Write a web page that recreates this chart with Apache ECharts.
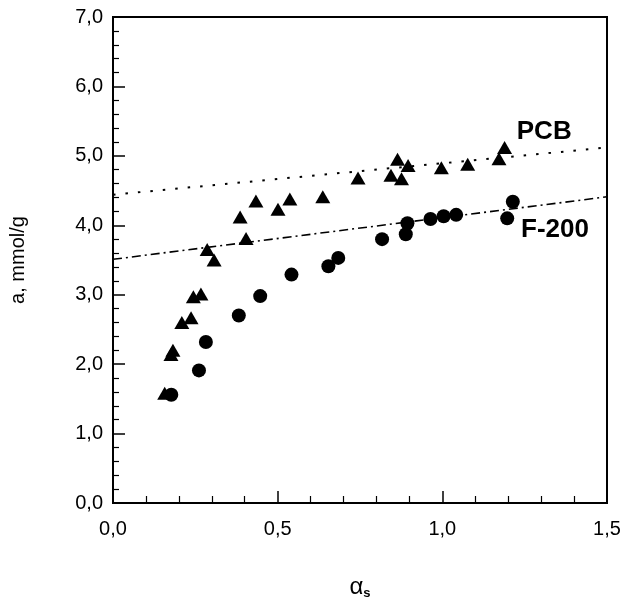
<!DOCTYPE html>
<html>
<head>
<meta charset="utf-8">
<script src="https://cdn.jsdelivr.net/npm/echarts@6/dist/echarts.min.js"></script>
<style>html,body{margin:0;padding:0;background:#fff}#c{width:627px;height:605px}</style>
</head>
<body>
<div id="c"></div>
<script>
// PCB (triangles)
const pcbX = [0.157,0.176,0.182,0.209,0.237,0.244,0.267,0.286,0.307,0.386,0.404,0.434,0.501,0.537,0.637,0.744,0.844,0.864,0.876,0.896,0.997,1.077,1.172,1.189];
const pcbY = [1.58,2.14,2.20,2.60,2.67,2.97,3.01,3.65,3.50,4.12,3.81,4.35,4.23,4.38,4.41,4.68,4.72,4.95,4.67,4.86,4.83,4.88,4.96,5.12];
// F-200 (circles)
const f200X = [0.177,0.261,0.282,0.382,0.447,0.542,0.654,0.684,0.817,0.889,0.894,0.964,1.004,1.042,1.197,1.214];
const f200Y = [1.56,1.91,2.32,2.70,2.98,3.29,3.41,3.53,3.80,3.87,4.03,4.09,4.13,4.15,4.10,4.34];
// fitted lines (endpoints)
const pcbLineX = [0, 1.5];
const pcbLineY = [4.44, 5.12];
const f200LineX = [0, 1.5];
const f200LineY = [3.51, 4.41];
// labels
const seriesNames = ['PCB', 'F-200'];
const labelPosX = [1.226, 1.239];
const labelPosY = [5.35, 3.94];

const zip = (a, b) => a.map((v, i) => [v, b[i]]);
const fmt = v => v.toFixed(1).replace('.', ',');
const FONT = 'Liberation Sans, Arial, sans-serif';

const chart = echarts.init(document.getElementById('c'));
chart.setOption({
  animation: false,
  backgroundColor: '#fff',
  grid: { left: 107, right: 20, top: 17, bottom: 90, show: true, borderColor: '#000', borderWidth: 2 },
  xAxis: {
    type: 'value', min: 0, max: 1.5, interval: 0.5,
    name: '{a|α}{s|s}', nameLocation: 'middle', nameGap: 72,
    nameTextStyle: { rich: { a: { fontSize: 24, fontFamily: FONT, color: '#000' }, s: { fontSize: 13, fontWeight: 'bold', fontFamily: FONT, color: '#000', padding: [12, 0, 0, 0] } } },
    axisLine: { lineStyle: { color: '#000', width: 2 } },
    axisTick: { inside: true, length: 12, lineStyle: { color: '#000', width: 1.5 } },
    minorTick: { show: true, splitNumber: 5, length: 7, lineStyle: { color: '#000', width: 1.2 } },
    splitLine: { show: false },
    axisLabel: { formatter: fmt, fontSize: 20, fontFamily: FONT, color: '#000', margin: 16 }
  },
  yAxis: {
    type: 'value', min: 0, max: 7, interval: 1,
    name: 'a, mmol/g', nameLocation: 'middle', nameGap: 85,
    nameTextStyle: { fontSize: 20, fontFamily: FONT, color: '#000' },
    axisLine: { lineStyle: { color: '#000', width: 2 } },
    axisTick: { inside: true, length: 12, lineStyle: { color: '#000', width: 1.5 } },
    minorTick: { show: true, splitNumber: 5, length: 6, lineStyle: { color: '#000', width: 1.2 } },
    splitLine: { show: false },
    axisLabel: { formatter: fmt, fontSize: 20, fontFamily: FONT, color: '#000', margin: 10 }
  },
  series: [
    { name: 'PCB fit', type: 'line', data: zip(pcbLineX, pcbLineY), symbol: 'none', z: 1,
      lineStyle: { color: '#000', width: 2, type: [2.5, 10] } },
    { name: 'F-200 fit', type: 'line', data: zip(f200LineX, f200LineY), symbol: 'none', z: 1,
      lineStyle: { color: '#000', width: 1.6, type: [9, 4, 2, 4] } },
    { name: 'PCB', type: 'scatter', data: zip(pcbX, pcbY), symbol: 'triangle', symbolSize: [15, 13],
      itemStyle: { color: '#000', opacity: 1 }, z: 3 },
    { name: 'F-200', type: 'scatter', data: zip(f200X, f200Y), symbol: 'circle', symbolSize: 14,
      itemStyle: { color: '#000', opacity: 1 }, z: 3 },
    { name: 'labels', type: 'scatter', symbolSize: 0, silent: true, z: 4,
      itemStyle: { color: '#000', opacity: 1 },
      data: seriesNames.map((n, i) => ({ value: [labelPosX[i], labelPosY[i]], name: n })),
      label: { show: true, position: 'right', distance: 0, formatter: p => p.name, opacity: 1,
        fontSize: 26, fontWeight: 'bold', fontFamily: FONT, color: '#000' } }
  ]
});
</script>
</body>
</html>
